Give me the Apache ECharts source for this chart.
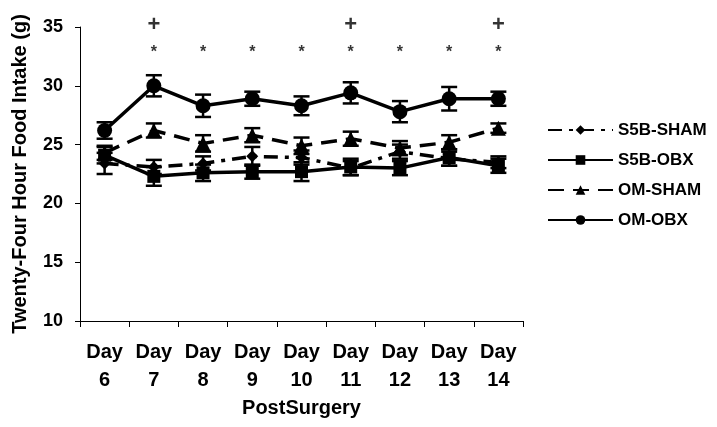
<!DOCTYPE html>
<html>
<head>
<meta charset="utf-8">
<script src="https://cdn.jsdelivr.net/npm/echarts@6/dist/echarts.min.js"></script>
<style>
  html, body { margin: 0; padding: 0; background: #fff; }
  #container { width: 717px; height: 427px; }
</style>
</head>
<body>
<div id="container"></div>
<script>
var days = ['6', '7', '8', '9', '10', '11', '12', '13', '14'];

var s5bSham = [23.4, 23.1, 23.4, 24.0, 23.9, 23.0, 24.4, 23.8, 23.5];
var s5bShamErr = [0.9, 0.6, 0.6, 0.8, 0.6, 0.6, 0.6, 0.6, 0.5];
var s5bObx = [24.1, 22.3, 22.6, 22.7, 22.7, 23.1, 23.0, 23.9, 23.2];
var s5bObxErr = [0.7, 0.8, 0.7, 0.6, 0.8, 0.7, 0.6, 0.7, 0.6];
var omSham = [24.3, 26.2, 25.1, 25.8, 24.9, 25.5, 24.7, 25.2, 26.4];
var omShamErr = [0.6, 0.6, 0.7, 0.6, 0.7, 0.6, 0.6, 0.6, 0.4];
var omObx = [26.2, 30.0, 28.3, 28.9, 28.3, 29.4, 27.8, 28.9, 28.9];
var omObxErr = [0.7, 0.9, 0.95, 0.6, 0.8, 0.9, 0.9, 1.0, 0.6];

// significance marks
var plusDays = ['7', '11', '14'];
var starDays = ['7', '8', '9', '10', '11', '12', '13', '14'];
var plusLevel = 35.2;
var starLevel = 32.8;

var font = 'Liberation Sans, Arial, sans-serif';

function errBars(name, vals, errs) {
  var data = [];
  for (var i = 0; i < vals.length; i++) {
    data.push([i, vals[i] - errs[i], vals[i] + errs[i]]);
  }
  return {
    name: name + '-err',
    type: 'custom',
    z: 1,
    data: data,
    renderItem: function (params, api) {
      var lo = api.coord([api.value(0), api.value(1)]);
      var hi = api.coord([api.value(0), api.value(2)]);
      var w = 8;
      var st = { stroke: '#000', lineWidth: 2.5 };
      return {
        type: 'group',
        children: [
          { type: 'line', shape: { x1: lo[0], y1: lo[1], x2: hi[0], y2: hi[1] }, style: st },
          { type: 'line', shape: { x1: lo[0] - w, y1: lo[1], x2: lo[0] + w, y2: lo[1] }, style: st },
          { type: 'line', shape: { x1: hi[0] - w, y1: hi[1], x2: hi[0] + w, y2: hi[1] }, style: st }
        ]
      };
    }
  };
}

function lineSeries(name, vals, symbol, size, dash) {
  return {
    name: name,
    type: 'line',
    data: vals,
    symbol: symbol,
    symbolSize: size,
    z: 3,
    itemStyle: { color: '#000' },
    lineStyle: { color: '#000', width: 3.5, type: dash },
    animation: false
  };
}

function markSeries(name, list, level, text, size) {
  return {
    name: name,
    type: 'scatter',
    symbolSize: 1,
    itemStyle: { color: 'transparent' },
    clip: false,
    data: list.map(function (d) { return [d, level]; }),
    label: {
      show: true,
      position: 'inside',
      formatter: text,
      color: '#000',
      fontFamily: font,
      fontWeight: 'bold',
      fontSize: size
    }
  };
}

var dom = document.getElementById('container');
var myChart = echarts.init(dom);

var option = {
  animation: false,
  grid: { left: 80, right: 194, top: 27, bottom: 106 },
  legend: {
    orient: 'vertical',
    left: 547,
    top: 121,
    padding: 0,
    itemGap: 12,
    itemWidth: 65,
    itemHeight: 12,
    data: ['S5B-SHAM', 'S5B-OBX', 'OM-SHAM', 'OM-OBX'],
    textStyle: { color: '#000', fontFamily: font, fontWeight: 'bold', fontSize: 17, lineHeight: 18 }
  },
  xAxis: {
    type: 'category',
    data: days,
    name: 'PostSurgery',
    nameLocation: 'middle',
    nameGap: 72,
    nameTextStyle: { color: '#000', fontFamily: font, fontWeight: 'bold', fontSize: 20 },
    axisLine: { lineStyle: { color: '#000', width: 1 } },
    axisTick: { show: true, length: 6, lineStyle: { color: '#000' } },
    axisLabel: {
      interval: 0,
      margin: 17,
      color: '#000',
      fontFamily: font,
      fontWeight: 'bold',
      fontSize: 20,
      lineHeight: 28,
      formatter: function (v) { return 'Day\n' + v; }
    }
  },
  yAxis: {
    type: 'value',
    min: 10,
    max: 35,
    interval: 5,
    name: 'Twenty-Four Hour Food Intake (g)',
    nameLocation: 'middle',
    nameGap: 50,
    nameTextStyle: { color: '#000', fontFamily: font, fontWeight: 'bold', fontSize: 20 },
    axisLine: { show: true, lineStyle: { color: '#000', width: 1 } },
    axisTick: { show: true, length: 5, lineStyle: { color: '#000' } },
    splitLine: { show: false },
    axisLabel: { margin: 17, color: '#000', fontFamily: font, fontWeight: 'bold', fontSize: 18 }
  },
  series: [
    errBars('S5B-SHAM', s5bSham, s5bShamErr),
    errBars('S5B-OBX', s5bObx, s5bObxErr),
    errBars('OM-SHAM', omSham, omShamErr),
    errBars('OM-OBX', omObx, omObxErr),
    lineSeries('S5B-SHAM', s5bSham, 'diamond', 12, [14, 7, 4, 7]),
    lineSeries('S5B-OBX', s5bObx, 'rect', 13, 'solid'),
    lineSeries('OM-SHAM', omSham, 'triangle', 15, [16, 9]),
    lineSeries('OM-OBX', omObx, 'circle', 15, 'solid'),
    markSeries('plus', plusDays, plusLevel, '+', 22),
    markSeries('star', starDays, starLevel, '*', 16)
  ]
};

myChart.setOption(option, true);
</script>
</body>
</html>
